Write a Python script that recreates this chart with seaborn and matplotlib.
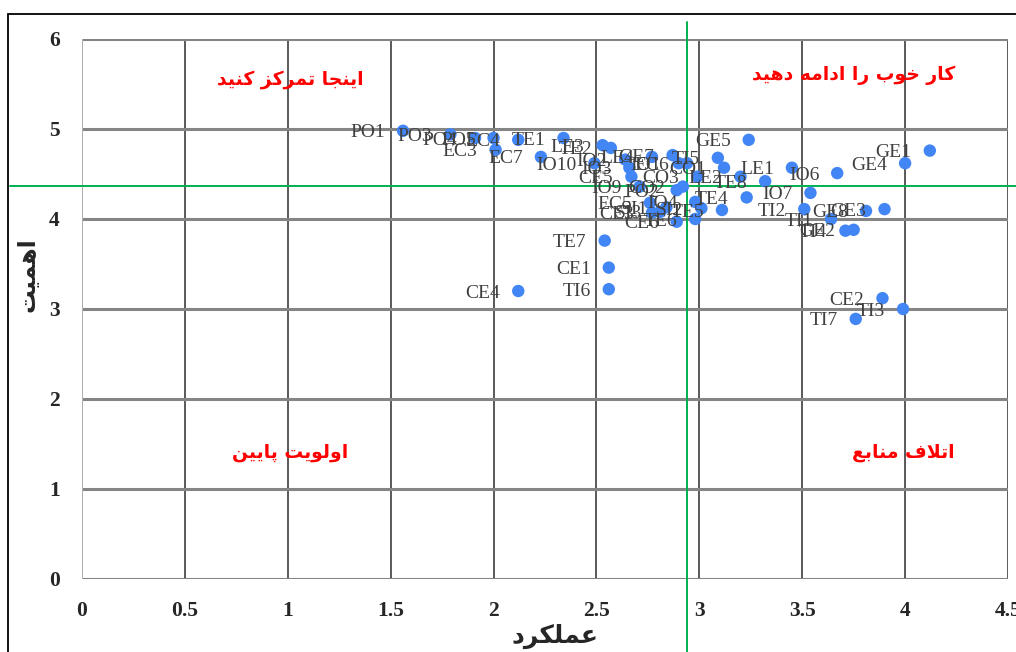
import matplotlib
matplotlib.use("Agg")
import matplotlib.pyplot as plt
import seaborn as sns
import pandas as pd
from matplotlib.patches import Rectangle

# ---------------- data ----------------
codes = ["PO1", "PO3", "PO4", "PO5", "EC3", "EC4", "EC7", "TE1",
         "IO10", "LE3", "TE2", "IO2", "IO3", "CE5", "LE4", "GE7",
         "EC6", "IO1", "CO1", "TI5", "GE5", "LE2", "TE8", "LE1",
         "TE4", "TE5", "IO6", "IO7", "GE4", "GE1", "TI2", "TI1",
         "GE8", "GE3", "TI4", "GE2", "CE2", "TI3", "TI7", "TE7",
         "CE1", "TI6", "CE4", "IO9", "PO2", "EC5", "CE3", "SI3",
         "CE6", "TE6", "IO4", "SI1", "SI2", "CO2", "CO3"]
performance = [1.56, 1.79, 1.91, 2.00, 2.01, 2.12, 2.23, 2.34,
               2.49, 2.53, 2.57, 2.64, 2.66, 2.67, 2.77, 2.87,
               2.94, 2.90, 3.12, 3.09, 3.24, 3.20, 3.32, 3.45,
               3.23, 3.11, 3.67, 3.54, 4.00, 4.12, 3.51, 3.64,
               3.81, 3.90, 3.71, 3.75, 3.89, 3.99, 3.76, 2.54,
               2.56, 2.56, 2.12, 2.71, 2.89, 2.76, 2.77, 2.81,
               2.89, 2.98, 2.98, 2.84, 3.01, 2.92, 2.99]
importance = [4.98, 4.94, 4.90, 4.90, 4.77, 4.88, 4.69, 4.90,
              4.62, 4.82, 4.79, 4.66, 4.57, 4.47, 4.69, 4.71,
              4.62, 4.62, 4.57, 4.68, 4.88, 4.47, 4.42, 4.57,
              4.24, 4.10, 4.51, 4.29, 4.62, 4.76, 4.11, 4.00,
              4.09, 4.11, 3.87, 3.88, 3.12, 3.00, 2.89, 3.76,
              3.46, 3.22, 3.20, 4.36, 4.32, 4.18, 4.07, 4.08,
              3.97, 4.00, 4.19, 4.13, 4.12, 4.36, 4.47]
perf_mean = 2.94
imp_mean = 4.37

x_ticks = [0, 0.5, 1, 1.5, 2, 2.5, 3, 3.5, 4, 4.5]
x_tick_labels = ["0", "0.5", "1", "1.5", "2", "2.5", "3", "3.5", "4", "4.5"]
y_ticks = [0, 1, 2, 3, 4, 5, 6]
y_tick_labels = ["0", "1", "2", "3", "4", "5", "6"]

x_title = "عملکرد"
y_title = "اهمیت"
quadrant_texts = ["اینجا تمرکز کنید", "کار خوب را ادامه دهید", "اولویت پایین", "اتلاف منابع"]
quadrant_x = [1.01, 3.75, 1.01, 3.99]
quadrant_y = [5.55, 5.6, 1.41, 1.40]

# ------------- Persian shaping (presentation forms, visual order) -------------
FORMS = {
    'ا': ('\uFE8D', '\uFE8E', None, None),
    'ب': ('\uFE8F', '\uFE90', '\uFE91', '\uFE92'),
    'پ': ('\uFB56', '\uFB57', '\uFB58', '\uFB59'),
    'ت': ('\uFE95', '\uFE96', '\uFE97', '\uFE98'),
    'ج': ('\uFE9D', '\uFE9E', '\uFE9F', '\uFEA0'),
    'خ': ('\uFEA5', '\uFEA6', '\uFEA7', '\uFEA8'),
    'د': ('\uFEA9', '\uFEAA', None, None),
    'ر': ('\uFEAD', '\uFEAE', None, None),
    'ز': ('\uFEAF', '\uFEB0', None, None),
    'ع': ('\uFEC9', '\uFECA', '\uFECB', '\uFECC'),
    'ف': ('\uFED1', '\uFED2', '\uFED3', '\uFED4'),
    'ک': ('\uFB8E', '\uFB8F', '\uFB90', '\uFB91'),
    'ل': ('\uFEDD', '\uFEDE', '\uFEDF', '\uFEE0'),
    'م': ('\uFEE1', '\uFEE2', '\uFEE3', '\uFEE4'),
    'ن': ('\uFEE5', '\uFEE6', '\uFEE7', '\uFEE8'),
    'و': ('\uFEED', '\uFEEE', None, None),
    'ه': ('\uFEE9', '\uFEEA', '\uFEEB', '\uFEEC'),
    'ی': ('\uFBFC', '\uFBFD', '\uFBFE', '\uFBFF'),
}


def shape(text):
    chars = list(text)
    n = len(chars)
    res = []
    i = 0

    def joins_next(c):
        return c in FORMS and FORMS[c][2] is not None

    while i < n:
        c = chars[i]
        if c not in FORMS:
            res.append(c)
            i += 1
            continue
        prev_join = i > 0 and joins_next(chars[i - 1])
        if c == 'ل' and i + 1 < n and chars[i + 1] == 'ا':
            res.append('\uFEFC' if prev_join else '\uFEFB')
            i += 2
            continue
        nxt = chars[i + 1] if i + 1 < n else None
        next_join = joins_next(c) and nxt in FORMS
        iso, fin, ini, med = FORMS[c]
        if prev_join and next_join:
            res.append(med)
        elif prev_join:
            res.append(fin)
        elif next_join:
            res.append(ini)
        else:
            res.append(iso)
        i += 1
    return ''.join(reversed(res))


# ---------------- plot ----------------
sns.set_theme(style="white")
plt.rcParams['font.family'] = ['Liberation Serif', 'DejaVu Serif']

df = pd.DataFrame({"code": codes, "performance": performance, "importance": importance})

fig = plt.figure(figsize=(10.16, 6.52), dpi=100)
ax = fig.add_axes([82 / 1016, 1 - 579 / 652, 926 / 1016, 540 / 652])

ax.set_xlim(0, 4.5)
ax.set_ylim(0, 6)

# grid
for xv in x_ticks:
    ax.axvline(xv, color="#595959", lw=1.4, zorder=1)
for yv in y_ticks:
    ax.axhline(yv, color="#858585", lw=2.2, zorder=1)
ax.axvline(0, color="#bfbfbf", lw=1.2, zorder=1.1)
for s in ax.spines.values():
    s.set_visible(False)

sns.scatterplot(data=df, x="performance", y="importance", ax=ax,
                color="#4285f4", s=80, edgecolor="none", zorder=3, legend=False)

for c, xv, yv in zip(df["code"], df["performance"], df["importance"]):
    ax.annotate(c, (xv, yv), xytext=(-13, -1.5), textcoords="offset points",
                ha="right", va="center", fontsize=14, color="#404040",
                family=["Liberation Serif"], zorder=4)

# mean lines
ax.axvline(perf_mean, ymin=-0.135, ymax=1.031, color="#00b050", lw=1.4,
           clip_on=False, zorder=2)
ax.axhline(imp_mean, xmin=-0.078, xmax=1.01, color="#00b050", lw=1.4,
           clip_on=False, zorder=2)

ax.set_xticks(x_ticks)
ax.set_xticklabels(x_tick_labels, fontsize=15.5, fontweight="bold",
                   family=["Liberation Serif"])
ax.set_yticks(y_ticks)
ax.set_yticklabels(y_tick_labels, fontsize=15.5, fontweight="bold",
                   family=["Liberation Serif"])
ax.tick_params(axis="x", length=0, pad=16)
ax.tick_params(axis="y", length=0, pad=16)
ax.set_xlabel("")
ax.set_ylabel("")

for t, xv, yv in zip(quadrant_texts, quadrant_x, quadrant_y):
    ax.text(xv, yv, shape(t), color="#ff0000", fontsize=13.5, fontweight="bold",
            ha="center", va="center", family=["DejaVu Sans"], zorder=5)

fig.text(555 / 1016, 1 - 636 / 652, shape(x_title), fontsize=18, fontweight="bold",
         ha="center", va="center", family=["DejaVu Sans"])
fig.text(28 / 1016, 1 - 275 / 652, shape(y_title), fontsize=17, fontweight="bold",
         ha="center", va="center", rotation=90, family=["DejaVu Sans"])

fig.patches.append(Rectangle((8 / 1016, -0.1), 1.2, 1 - 14 / 652 + 0.1, fill=False,
                             edgecolor="black", lw=1.3, transform=fig.transFigure,
                             figure=fig))

fig.savefig("out.png", dpi=100)
